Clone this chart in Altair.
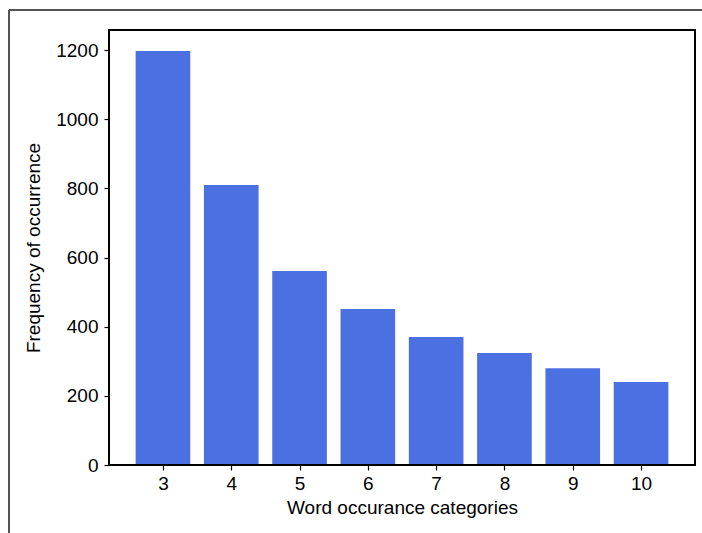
import altair as alt
import pandas as pd

categories = [3, 4, 5, 6, 7, 8, 9, 10]
frequencies = [1197, 810, 561, 451, 370, 324, 280, 240]

df = pd.DataFrame({"cat": categories, "freq": frequencies})

FONT = "Liberation Sans"
FS = 19
W, H = 586, 435

bars = alt.Chart(df).transform_calculate(
    x0="datum.cat - 0.4", x1="datum.cat + 0.4"
).mark_bar(color="#4A70E2", opacity=1).encode(
    x=alt.X("x0:Q", scale=alt.Scale(domain=[2.21, 10.79], nice=False, zero=False),
            axis=alt.Axis(values=categories, title="Word occurance categories",
                          grid=False, tickSize=5, labelPadding=4, titlePadding=5,
                          domain=False, format="d",
                          labelFont=FONT, titleFont=FONT, labelFontSize=FS,
                          titleFontSize=FS)),
    x2="x1:Q",
    y=alt.Y("freq:Q", scale=alt.Scale(domain=[0, 1258], nice=False),
            axis=alt.Axis(values=[0, 200, 400, 600, 800, 1000, 1200],
                          title="Frequency of occurrence", grid=False, format="d",
                          tickSize=5, labelPadding=6, titlePadding=12, domain=False,
                          labelFont=FONT, titleFont=FONT, labelFontSize=FS,
                          titleFontSize=FS)),
    y2=alt.datum(0),
)

frame = alt.Chart(df).mark_rect(fill=None, stroke="black", strokeWidth=1.2).encode(
    x=alt.value(0), x2=alt.value(W), y=alt.value(0), y2=alt.value(H)
)

outer_top = alt.Chart(df).mark_rule(color="#555555", strokeWidth=1.5).encode(
    x=alt.value(-100), x2=alt.value(600), y=alt.value(-20)
)
outer_left = alt.Chart(df).mark_rule(color="#555555", strokeWidth=1.5).encode(
    x=alt.value(-100), y=alt.value(-20), y2=alt.value(510)
)

chart = alt.layer(bars, frame, outer_top, outer_left).properties(
    width=W, height=H,
    autosize=alt.AutoSizeParams(type="none"),
    padding={"left": 109, "top": 30, "right": 7, "bottom": 68},
).configure_view(stroke=None).configure_axis(
    labelColor="black", titleColor="black", tickColor="black",
    titleFontWeight="normal", tickWidth=1.2,
)

chart.save("out.html", embed_options={"renderer": "svg", "actions": False})
